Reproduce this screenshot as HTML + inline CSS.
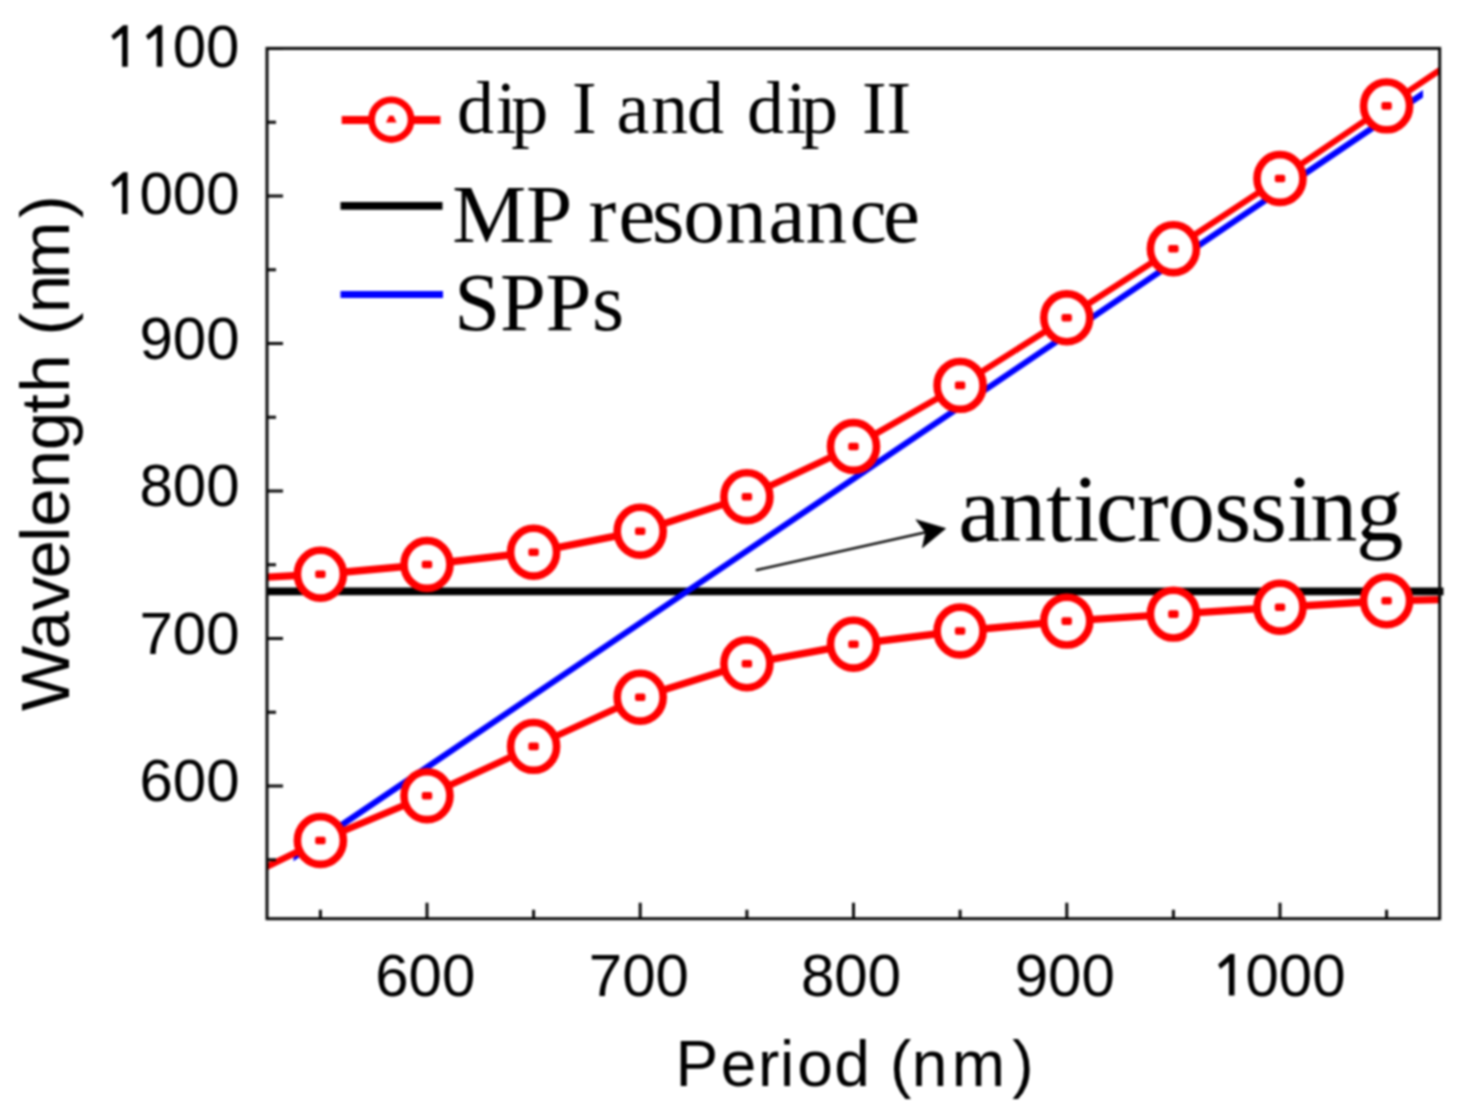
<!DOCTYPE html>
<html><head><meta charset="utf-8"><style>
html,body{margin:0;padding:0;background:#fff;}
body{width:1462px;height:1110px;overflow:hidden;}
svg{display:block;filter:blur(1.2px);}
text{font-kerning:none;font-variant-ligatures:none;}
.s{font-family:"Liberation Sans",sans-serif;}
.r{font-family:"Liberation Serif",serif;}
</style></head><body>
<svg width="1462" height="1110" viewBox="0 0 1462 1110">
<defs><clipPath id="c"><rect x="267.0" y="48.4" width="1172.7" height="870.3"/></clipPath></defs>
<g clip-path="url(#c)">
<line x1="267.0" y1="591.4" x2="1443" y2="591.4" stroke="#000" stroke-width="7.80"/>
<path d="M293.50 853.78L1423.00 90.07L1423.00 97.47L293.50 861.18Z" fill="#0000ff"/>
<path d="M213.0 576.3L320.4 570.5L320.4 577.9L213.0 583.7ZM320.4 570.5L427.0 560.8L427.0 568.2L320.4 577.9ZM427.0 560.8L533.6 548.5L533.6 555.9L427.0 568.2ZM533.6 548.5L640.2 527.5L640.2 534.9L533.6 555.9ZM640.2 527.5L746.9 493.0L746.9 500.4L640.2 534.9ZM746.9 493.0L853.5 442.8L853.5 450.2L746.9 500.4ZM853.5 442.8L960.1 381.7L960.1 389.1L853.5 450.2ZM960.1 381.7L1066.8 314.1L1066.8 321.4L960.1 389.1ZM1066.8 314.1L1173.4 245.0L1173.4 252.4L1066.8 321.4ZM1173.4 245.0L1280.0 174.8L1280.0 182.2L1173.4 252.4ZM1280.0 174.8L1386.6 102.2L1386.6 109.6L1280.0 182.2ZM1386.6 102.2L1492.0 31.3L1492.0 38.7L1386.6 109.6ZM213.0 889.3L320.4 836.8L320.4 844.2L213.0 896.7ZM320.4 836.8L427.0 792.0L427.0 799.4L320.4 844.2ZM427.0 792.0L533.6 742.7L533.6 750.1L427.0 799.4ZM533.6 742.7L640.2 693.5L640.2 700.9L533.6 750.1ZM640.2 693.5L746.9 660.1L746.9 667.5L640.2 700.9ZM746.9 660.1L853.5 640.5L853.5 647.9L746.9 667.5ZM853.5 640.5L960.1 627.3L960.1 634.7L853.5 647.9ZM960.1 627.3L1066.8 617.4L1066.8 624.8L960.1 634.7ZM1066.8 617.4L1173.4 610.4L1173.4 617.8L1066.8 624.8ZM1173.4 610.4L1280.0 603.5L1280.0 610.9L1173.4 617.8ZM1280.0 603.5L1386.6 597.1L1386.6 604.5L1280.0 610.9ZM1386.6 597.1L1492.0 594.8L1492.0 602.2L1386.6 604.5Z" fill="#ff0000"/>
</g>
<line x1="1438" y1="591.4" x2="1443.5" y2="591.4" stroke="#000" stroke-width="7.80"/>
<ellipse cx="320.4" cy="574.2" rx="23.0" ry="23.9" fill="#fff" stroke="#ff0000" stroke-width="7.60"/>
<rect x="315.2" y="570.4" width="10.4" height="7.6" rx="2" fill="#ff0000"/>
<ellipse cx="427.0" cy="564.5" rx="23.0" ry="23.9" fill="#fff" stroke="#ff0000" stroke-width="7.60"/>
<rect x="421.8" y="560.7" width="10.4" height="7.6" rx="2" fill="#ff0000"/>
<ellipse cx="533.6" cy="552.2" rx="23.0" ry="23.9" fill="#fff" stroke="#ff0000" stroke-width="7.60"/>
<rect x="528.4" y="548.4" width="10.4" height="7.6" rx="2" fill="#ff0000"/>
<ellipse cx="640.2" cy="531.2" rx="23.0" ry="23.9" fill="#fff" stroke="#ff0000" stroke-width="7.60"/>
<rect x="635.0" y="527.4" width="10.4" height="7.6" rx="2" fill="#ff0000"/>
<ellipse cx="746.9" cy="496.7" rx="23.0" ry="23.9" fill="#fff" stroke="#ff0000" stroke-width="7.60"/>
<rect x="741.7" y="492.9" width="10.4" height="7.6" rx="2" fill="#ff0000"/>
<ellipse cx="853.5" cy="446.5" rx="23.0" ry="23.9" fill="#fff" stroke="#ff0000" stroke-width="7.60"/>
<rect x="848.3" y="442.7" width="10.4" height="7.6" rx="2" fill="#ff0000"/>
<ellipse cx="960.1" cy="385.4" rx="23.0" ry="23.9" fill="#fff" stroke="#ff0000" stroke-width="7.60"/>
<rect x="954.9" y="381.6" width="10.4" height="7.6" rx="2" fill="#ff0000"/>
<ellipse cx="1066.8" cy="317.8" rx="23.0" ry="23.9" fill="#fff" stroke="#ff0000" stroke-width="7.60"/>
<rect x="1061.5" y="313.9" width="10.4" height="7.6" rx="2" fill="#ff0000"/>
<ellipse cx="1173.4" cy="248.7" rx="23.0" ry="23.9" fill="#fff" stroke="#ff0000" stroke-width="7.60"/>
<rect x="1168.2" y="244.9" width="10.4" height="7.6" rx="2" fill="#ff0000"/>
<ellipse cx="1280.0" cy="178.5" rx="23.0" ry="23.9" fill="#fff" stroke="#ff0000" stroke-width="7.60"/>
<rect x="1274.8" y="174.7" width="10.4" height="7.6" rx="2" fill="#ff0000"/>
<ellipse cx="1386.6" cy="105.9" rx="23.0" ry="23.9" fill="#fff" stroke="#ff0000" stroke-width="7.60"/>
<rect x="1381.4" y="102.1" width="10.4" height="7.6" rx="2" fill="#ff0000"/>
<ellipse cx="320.4" cy="840.5" rx="23.0" ry="23.9" fill="#fff" stroke="#ff0000" stroke-width="7.60"/>
<rect x="315.2" y="836.7" width="10.4" height="7.6" rx="2" fill="#ff0000"/>
<ellipse cx="427.0" cy="795.7" rx="23.0" ry="23.9" fill="#fff" stroke="#ff0000" stroke-width="7.60"/>
<rect x="421.8" y="791.9" width="10.4" height="7.6" rx="2" fill="#ff0000"/>
<ellipse cx="533.6" cy="746.4" rx="23.0" ry="23.9" fill="#fff" stroke="#ff0000" stroke-width="7.60"/>
<rect x="528.4" y="742.6" width="10.4" height="7.6" rx="2" fill="#ff0000"/>
<ellipse cx="640.2" cy="697.2" rx="23.0" ry="23.9" fill="#fff" stroke="#ff0000" stroke-width="7.60"/>
<rect x="635.0" y="693.4" width="10.4" height="7.6" rx="2" fill="#ff0000"/>
<ellipse cx="746.9" cy="663.8" rx="23.0" ry="23.9" fill="#fff" stroke="#ff0000" stroke-width="7.60"/>
<rect x="741.7" y="660.0" width="10.4" height="7.6" rx="2" fill="#ff0000"/>
<ellipse cx="853.5" cy="644.2" rx="23.0" ry="23.9" fill="#fff" stroke="#ff0000" stroke-width="7.60"/>
<rect x="848.3" y="640.4" width="10.4" height="7.6" rx="2" fill="#ff0000"/>
<ellipse cx="960.1" cy="631.0" rx="23.0" ry="23.9" fill="#fff" stroke="#ff0000" stroke-width="7.60"/>
<rect x="954.9" y="627.2" width="10.4" height="7.6" rx="2" fill="#ff0000"/>
<ellipse cx="1066.8" cy="621.1" rx="23.0" ry="23.9" fill="#fff" stroke="#ff0000" stroke-width="7.60"/>
<rect x="1061.5" y="617.3" width="10.4" height="7.6" rx="2" fill="#ff0000"/>
<ellipse cx="1173.4" cy="614.1" rx="23.0" ry="23.9" fill="#fff" stroke="#ff0000" stroke-width="7.60"/>
<rect x="1168.2" y="610.3" width="10.4" height="7.6" rx="2" fill="#ff0000"/>
<ellipse cx="1280.0" cy="607.2" rx="23.0" ry="23.9" fill="#fff" stroke="#ff0000" stroke-width="7.60"/>
<rect x="1274.8" y="603.4" width="10.4" height="7.6" rx="2" fill="#ff0000"/>
<ellipse cx="1386.6" cy="600.8" rx="23.0" ry="23.9" fill="#fff" stroke="#ff0000" stroke-width="7.60"/>
<rect x="1381.4" y="597.0" width="10.4" height="7.6" rx="2" fill="#ff0000"/>
<rect x="267.0" y="48.4" width="1172.7" height="870.3" fill="none" stroke="#0a0a0a" stroke-width="3.00"/>
<path d="M267.0 859.8H276.0M267.0 786.0H283.0M267.0 712.2H276.0M267.0 638.5H283.0M267.0 564.8H276.0M267.0 491.0H283.0M267.0 417.2H276.0M267.0 343.5H283.0M267.0 269.8H276.0M267.0 196.0H283.0M267.0 122.2H276.0M267.0 48.5H283.0M320.4 918.7V909.7M427.0 918.7V902.7M533.6 918.7V909.7M640.2 918.7V902.7M746.9 918.7V909.7M853.5 918.7V902.7M960.1 918.7V909.7M1066.8 918.7V902.7M1173.4 918.7V909.7M1280.0 918.7V902.7M1386.6 918.7V909.7" stroke="#0a0a0a" stroke-width="3.00" fill="none"/>
<path d="M127.7,25.2 L127.7,66.8 L122.1,66.8 L122.1,33.2 L113.7,40.1 L111.3,35.8 L123.1,25.2 Z" fill="#000"/>
<path d="M162.3,25.2 L162.3,66.8 L156.7,66.8 L156.7,33.2 L148.3,40.1 L145.9,35.8 L157.7,25.2 Z" fill="#000"/>
<text class="s" x="239.5" y="66.8" font-size="60" text-anchor="end">00</text>
<path d="M127.6,172.3 L127.6,213.9 L122.0,213.9 L122.0,180.3 L113.6,187.2 L111.2,182.9 L123.0,172.3 Z" fill="#000"/>
<text class="s" x="239.5" y="213.9" font-size="60" text-anchor="end">000</text>
<text class="s" x="239.5" y="358.6" font-size="60" text-anchor="end">900</text>
<text class="s" x="239.5" y="506.1" font-size="60" text-anchor="end">800</text>
<text class="s" x="239.5" y="653.8" font-size="60" text-anchor="end">700</text>
<text class="s" x="239.5" y="801.1" font-size="60" text-anchor="end">600</text>
<text class="s" x="425.3" y="995.6" font-size="60" text-anchor="middle">600</text>
<text class="s" x="638.9" y="995.6" font-size="60" text-anchor="middle">700</text>
<text class="s" x="851.0" y="995.6" font-size="60" text-anchor="middle">800</text>
<text class="s" x="1064.8" y="995.6" font-size="60" text-anchor="middle">900</text>
<path d="M1234.5,954.0 L1234.5,995.6 L1228.9,995.6 L1228.9,962.0 L1220.5,968.9 L1218.1,964.6 L1229.9,954.0 Z" fill="#000"/>
<text class="s" x="1345.6" y="995.6" font-size="60" text-anchor="end">000</text>
<text class="s" x="675.6 720.7 758.0 779.9 797.3 834.2 869.8 889.9 911.8 951.8 1012.3" y="1086.1" font-size="64">Period (nm)</text>
<text class="s" transform="rotate(-90)" x="-710.9 -649.4 -610.7 -578.4 -541.9 -526.8 -488.5 -450.3 -413.3 -392.8 -354.4 -335.6 -313.2 -279.1 -218.2" y="68.6" font-size="69">Wavelength (nm)</text>
<line x1="341.7" y1="119.9" x2="440.4" y2="119.9" stroke="#ff0000" stroke-width="8.0"/>
<circle cx="391.3" cy="119.7" r="19.8" fill="#fff" stroke="#ff0000" stroke-width="6.8"/>
<path d="M389.2 115.8L393.4 115.8L396.6 122.6L386 122.6Z" fill="#ff0000"/>
<line x1="340.5" y1="205.9" x2="442.5" y2="205.9" stroke="#000" stroke-width="7.6"/>
<line x1="340.5" y1="294.6" x2="443" y2="294.6" stroke="#0000ff" stroke-width="7.0"/>
<text class="r" x="457.1 496.0 511.2 548.2 572.1 596.8 616.5 651.0 687.1 724.1 747.1 785.9 801.1 838.1 862.0 886.6" y="132.6" font-size="74.0">dip I and dip II</text>
<text class="r" x="452.2 526.1 572.4 588.4 618.6 652.0 683.3 725.3 768.6 805.5 849.7 883.1" y="241.6" font-size="83.2">MP resonance</text>
<text class="r" x="454.3 499.9 545.5 591.9" y="329.6" font-size="82.5">SPPs</text>
<text class="r" x="958.2 998.7 1046.0 1072.8 1095.8 1136.9 1167.5 1214.2 1250.1 1287.1 1310.0 1356.0" y="540.9" font-size="95.0">anticrossing</text>
<line x1="756.7" y1="570.0" x2="927" y2="532.0" stroke="#111" stroke-width="2.5" stroke-linecap="round"/>
<polygon points="945.6,528.5 916.0,519.7 925.7,532.7 922.4,547.7" fill="#000" stroke="#000" stroke-width="0.8" stroke-linejoin="round"/>
</svg></body></html>
